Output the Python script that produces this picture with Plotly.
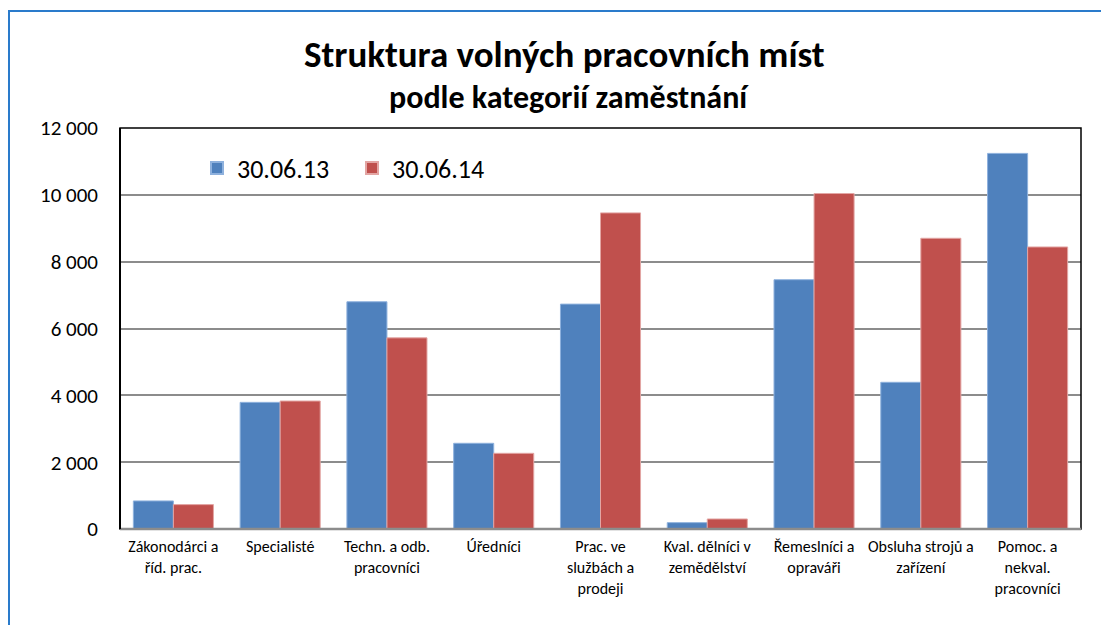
import plotly.graph_objects as go

categories = [
    "Zákonodárci a<br>říd. prac.",
    "Specialisté",
    "Techn. a odb.<br>pracovníci",
    "Úředníci",
    "Prac. ve<br>službách a<br>prodeji",
    "Kval. dělníci v<br>zemědělství",
    "Řemeslníci a<br>opraváři",
    "Obsluha strojů a<br>zařízení",
    "Pomoc. a<br>nekval.<br>pracovníci",
]
series_names = ["30.06.13", "30.06.14"]
values_2013 = [840, 3790, 6800, 2565, 6730, 190, 7460, 4390, 11240]
values_2014 = [730, 3830, 5720, 2265, 9460, 300, 10040, 8700, 8440]
y_ticks = [0, 2000, 4000, 6000, 8000, 10000, 12000]

FONT = "Calibri, Carlito, Lato, sans-serif"

fig = go.Figure()
fig.add_trace(go.Bar(
    x=categories, y=values_2013, name=series_names[0],
    marker=dict(color="#4F81BD", line=dict(color="#8EB1DD", width=1)),
))
fig.add_trace(go.Bar(
    x=categories, y=values_2014, name=series_names[1],
    marker=dict(color="#C0504D", line=dict(color="#E3A6A4", width=1)),
))

# page body has an 8px margin; work in window pixel coordinates
OFF = 8
W, H = 1109 - OFF, 625 - OFF
L, R, T, B = 120 - OFF, 28, 128 - OFF, 96
pw, ph = W - L - R, H - T - B

def px_x(px):
    return (px - 120) / pw

def px_y(py):
    return (529 - py) / ph

fig.update_layout(
    width=W, height=H,
    margin=dict(l=L, r=R, t=T, b=B, autoexpand=False),
    paper_bgcolor="white", plot_bgcolor="white",
    barmode="group", bargap=0.25, bargroupgap=0,
    separators=", ",
    font=dict(family=FONT, color="#000000"),
    showlegend=True,
    legend=dict(
        orientation="h", x=px_x(197), y=px_y(168), xanchor="left", yanchor="middle",
        font=dict(family=FONT, size=26, color="#000000"),
        bgcolor="rgba(0,0,0,0)", entrywidth=110, entrywidthmode="pixels",
        itemsizing="constant",
    ),
    xaxis=dict(
        showgrid=False, showline=False, zeroline=False,
        tickfont=dict(family=FONT, size=16, color="#000000"),
        ticks="", ticklabelstandoff=6,
    ),
    yaxis=dict(
        range=[0, 12000], tickvals=y_ticks, tickformat=",d",
        showgrid=True, gridcolor="#8C8C8C", gridwidth=1.5,
        zeroline=False, showline=False,
        tickfont=dict(family=FONT, size=21, color="#000000"),
        ticks="", ticklabelstandoff=21,
    ),
    shapes=[
        dict(type="path", xref="paper", yref="paper",
             path=f"M {px_x(9)},{px_y(640)} L {px_x(9)},{px_y(11)} L {px_x(1120)},{px_y(11)}",
             line=dict(color="#2A7BCB", width=2)),
        dict(type="rect", xref="paper", yref="paper", x0=0, x1=1, y0=0, y1=1,
             line=dict(color="#000000", width=1.5), layer="above"),
        dict(type="line", xref="paper", yref="paper", x0=0, x1=1, y0=0, y1=0,
             line=dict(color="#8C8C8C", width=2.5), layer="above"),
        dict(type="line", xref="paper", yref="paper", x0=0, x1=0, y0=0, y1=1,
             line=dict(color="#000000", width=2), layer="above"),
    ],
    annotations=[
        dict(text="<b>Struktura volných pracovních míst</b>", xref="paper", yref="paper",
             x=px_x(564), y=px_y(55), xanchor="center", yanchor="middle", showarrow=False,
             font=dict(family=FONT, size=37, color="#000000")),
        dict(text="<b>podle kategorií zaměstnání</b>", xref="paper", yref="paper",
             x=px_x(569), y=px_y(97), xanchor="center", yanchor="middle", showarrow=False,
             font=dict(family=FONT, size=32, color="#000000")),
    ],
)

fig.write_html("out.html")
